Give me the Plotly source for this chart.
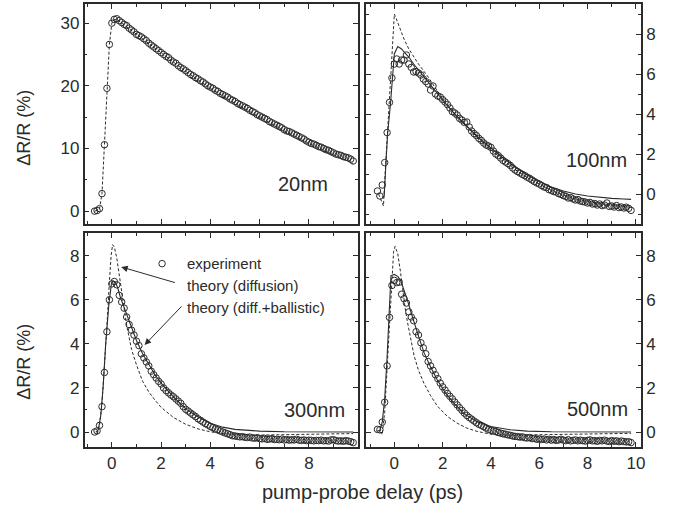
import plotly.graph_objects as go

# ---------------- data ----------------
DELAY_PS = [
    -0.7, -0.6, -0.5, -0.4, -0.3, -0.2, -0.1,
    0.0, 0.1, 0.2, 0.3, 0.4, 0.5, 0.6, 0.7, 0.8, 0.9,
    1.0, 1.1, 1.2, 1.3, 1.4, 1.5, 1.6, 1.7, 1.8, 1.9,
    2.0, 2.1, 2.2, 2.3, 2.4, 2.5, 2.6, 2.7, 2.8, 2.9,
    3.0, 3.1, 3.2, 3.3, 3.4, 3.5, 3.6, 3.7, 3.8, 3.9,
    4.0, 4.1, 4.2, 4.3, 4.4, 4.5, 4.6, 4.7, 4.8, 4.9,
    5.0, 5.1, 5.2, 5.3, 5.4, 5.5, 5.6, 5.7, 5.8, 5.9,
    6.0, 6.1, 6.2, 6.3, 6.4, 6.5, 6.6, 6.7, 6.8, 6.9,
    7.0, 7.1, 7.2, 7.3, 7.4, 7.5, 7.6, 7.7, 7.8, 7.9,
    8.0, 8.1, 8.2, 8.3, 8.4, 8.5, 8.6, 8.7, 8.8, 8.9,
    9.0, 9.1, 9.2, 9.3, 9.4, 9.5, 9.6, 9.7, 9.8,
]

EXP_20NM = [
    0.0, 0.1, 0.4, 2.8, 10.6, 19.6, 26.6,
    30.0, 30.6, 30.7, 30.4, 30.1, 29.8, 29.6, 29.2, 28.9, 28.6,
    28.2, 28.0, 27.8, 27.5, 27.2, 26.8, 26.5, 26.2, 25.9, 25.6,
    25.3, 25.0, 24.7, 24.5, 24.1, 23.8, 23.6, 23.2, 22.9, 22.7,
    22.4, 22.1, 21.8, 21.6, 21.3, 21.1, 20.8, 20.6, 20.3, 20.0,
    19.8, 19.6, 19.3, 19.1, 18.8, 18.6, 18.4, 18.2, 17.9, 17.7,
    17.5, 17.2, 17.0, 16.8, 16.6, 16.4, 16.1, 15.9, 15.7, 15.4,
    15.2, 15.0, 14.8, 14.6, 14.3, 14.1, 13.9, 13.7, 13.5, 13.3,
    13.0, 12.8, 12.7, 12.5, 12.3, 12.1, 11.9, 11.7, 11.5, 11.2,
    11.0, 10.8, 10.7, 10.5, 10.3, 10.2, 10.0, 9.8, 9.7, 9.5,
    9.3, 9.1, 9.0, 8.9, 8.7, 8.6, 8.5, 8.3, 8.0,
]

EXP_100NM = [
    0.15, -0.1, 0.45, 1.57, 3.07, 4.58, 5.8,
    6.5, 6.75, 6.5, 6.7, 6.7, 6.95, 6.5, 6.33, 6.1, 6.12,
    6.05, 5.95, 5.75, 5.62, 5.5, 5.2, 5.4, 5.0, 4.9, 4.85,
    4.72, 4.6, 4.47, 4.3, 4.12, 4.05, 3.95, 3.78, 3.7, 3.58,
    3.6, 3.35, 3.15, 3.02, 2.92, 2.78, 2.68, 2.55, 2.45, 2.4,
    2.33, 2.15, 2.0, 1.92, 1.8, 1.68, 1.6, 1.52, 1.43, 1.3,
    1.2, 1.12, 1.05, 0.98, 0.92, 0.84, 0.78, 0.7, 0.62, 0.55,
    0.5, 0.42, 0.35, 0.32, 0.22, 0.18, 0.12, 0.1, 0.02, -0.02,
    -0.08, -0.12, -0.2, -0.18, -0.25, -0.3, -0.28, -0.35, -0.38, -0.4,
    -0.45, -0.42, -0.5, -0.48, -0.55, -0.5, -0.58, -0.55, -0.45, -0.62,
    -0.6, -0.65, -0.58, -0.68, -0.65, -0.7, -0.66, -0.72, -0.82,
]

EXP_300NM = [
    0.0, 0.05, 0.3, 1.15, 2.7, 4.55, 6.0,
    6.72, 6.83, 6.68, 6.2, 5.9, 5.62, 5.22, 4.88, 4.62, 4.4,
    4.12, 3.92, 3.55, 3.36, 3.18, 3.0, 2.76, 2.6, 2.45, 2.3,
    2.18, 2.0, 1.88, 1.78, 1.68, 1.6, 1.5, 1.4, 1.3, 1.15,
    1.03, 0.95, 0.86, 0.78, 0.7, 0.6, 0.53, 0.45, 0.38, 0.32,
    0.25, 0.2, 0.14, 0.1, 0.05, 0.0, -0.04, -0.08, -0.12, -0.17,
    -0.18, -0.2, -0.22, -0.21, -0.24, -0.25, -0.23, -0.27, -0.28, -0.26,
    -0.3, -0.31, -0.29, -0.33, -0.32, -0.3, -0.34, -0.33, -0.35, -0.32,
    -0.36, -0.34, -0.37, -0.35, -0.36, -0.33, -0.37, -0.38, -0.36, -0.39,
    -0.37, -0.38, -0.4, -0.38, -0.39, -0.37, -0.4, -0.39, -0.41, -0.36,
    -0.35, -0.39, -0.41, -0.4, -0.42, -0.39, -0.41, -0.44, -0.48,
]

EXP_500NM = [
    0.12, 0.1, 0.45, 1.35, 3.0, 5.2, 6.65,
    6.88, 6.78, 6.8, 6.25, 6.05, 5.85, 5.45, 5.22, 5.05, 4.55,
    4.4, 4.05, 3.82, 3.55, 3.2, 3.0, 2.8, 2.6, 2.42, 2.22,
    2.05, 1.9, 1.75, 1.62, 1.5, 1.36, 1.23, 1.1, 0.98, 0.86,
    0.75, 0.66, 0.58, 0.5, 0.42, 0.35, 0.3, 0.24, 0.18, 0.12,
    0.08, 0.05, 0.02, -0.02, -0.05, -0.08, -0.1, -0.13, -0.15, -0.18,
    -0.2, -0.21, -0.23, -0.22, -0.26, -0.27, -0.25, -0.3, -0.29, -0.33,
    -0.31, -0.34, -0.32, -0.36, -0.33, -0.37, -0.34, -0.38, -0.36, -0.33,
    -0.37, -0.39, -0.35, -0.4, -0.38, -0.36, -0.4, -0.37, -0.39, -0.41,
    -0.38, -0.36, -0.4, -0.39, -0.42, -0.38, -0.4, -0.37, -0.41, -0.43,
    -0.39, -0.42, -0.4, -0.44, -0.41, -0.43, -0.45, -0.44, -0.48,
]

# theory (diffusion) - dashed
DIFF_20NM_T = [-0.7, -0.6, -0.5, -0.4, -0.3, -0.2, -0.1, 0.0, 0.1, 0.2, 0.5, 1.0, 2.0, 3.0, 4.0, 5.0, 6.0, 7.0, 8.0, 9.0, 9.8]
DIFF_20NM_Y = [0.0, 0.1, 0.4, 2.8, 10.6, 19.6, 26.6, 30.0, 30.6, 30.6, 29.7, 28.2, 25.2, 22.3, 19.6, 17.2, 15.0, 12.8, 10.8, 9.0, 7.6]

DIFF_100NM_T = [-0.65, -0.55, -0.45, -0.4, -0.3, -0.2, -0.1, -0.05, 0.0, 0.1, 0.2, 0.4, 0.6, 0.8, 1.0, 1.4, 1.8, 2.0, 2.5, 3.0, 3.5, 4.0, 4.5, 5.0, 5.5, 6.0, 6.5, 7.0, 7.5, 8.0, 8.5, 9.0, 9.5, 9.8]
DIFF_100NM_Y = [0.0, -0.3, -0.6, 0.6, 2.8, 4.6, 6.6, 7.8, 9.0, 8.7, 8.37, 7.75, 7.25, 6.85, 6.5, 5.85, 5.1, 4.75, 4.0, 3.35, 2.75, 2.2, 1.7, 1.22, 0.82, 0.48, 0.18, -0.06, -0.25, -0.38, -0.48, -0.56, -0.62, -0.66]

DIFF_300NM_T = [-0.6, -0.5, -0.4, -0.3, -0.2, -0.1, -0.03, 0.03, 0.1, 0.2, 0.3, 0.4, 0.5, 0.6, 0.8, 1.0, 1.25, 1.5, 1.75, 2.0, 2.5, 3.0, 3.5, 4.0, 4.5, 5.0, 5.5, 6.0, 7.0, 8.0, 9.0, 9.8]
DIFF_300NM_Y = [-0.1, 0.3, 1.3, 2.9, 4.8, 6.8, 8.0, 8.5, 8.4, 7.9, 7.1, 6.3, 5.5, 4.85, 3.75, 3.05, 2.3, 1.82, 1.45, 1.12, 0.66, 0.35, 0.14, 0.01, -0.07, -0.12, -0.14, -0.14, -0.12, -0.1, -0.08, -0.07]

DIFF_500NM_T = [-0.6, -0.5, -0.4, -0.3, -0.2, -0.1, -0.03, 0.03, 0.14, 0.25, 0.34, 0.45, 0.55, 0.7, 0.82, 1.0, 1.23, 1.5, 1.78, 2.2, 2.6, 3.0, 3.42, 4.0, 4.5, 5.0, 6.0, 7.0, 8.0, 9.0, 9.8]
DIFF_500NM_Y = [0.0, -0.12, 0.9, 3.0, 5.2, 7.2, 8.2, 8.42, 8.1, 7.3, 6.5, 5.6, 4.95, 4.05, 3.45, 2.8, 2.2, 1.65, 1.18, 0.7, 0.4, 0.18, 0.03, -0.1, -0.14, -0.14, -0.12, -0.1, -0.08, -0.07, -0.06]

# theory (diffusion + ballistic) - solid
BALL_100NM_T = [-0.5, -0.42, -0.35, -0.28, -0.16, -0.07, 0.0, 0.14, 0.3, 0.4, 0.6, 0.8, 1.0, 1.5, 2.0, 2.5, 3.0, 3.5, 4.0, 4.5, 5.0, 5.5, 6.0, 6.5, 7.0, 7.5, 8.0, 8.5, 9.0, 9.5, 9.8]
BALL_100NM_Y = [-0.2, -0.1, 1.5, 3.0, 4.5, 5.8, 7.0, 7.37, 7.25, 7.1, 6.85, 6.5, 6.2, 5.4, 4.7, 4.0, 3.4, 2.8, 2.3, 1.8, 1.35, 0.95, 0.62, 0.35, 0.15, 0.0, -0.1, -0.17, -0.22, -0.25, -0.27]

BALL_300NM_T = [-0.65, -0.55, -0.45, -0.35, -0.25, -0.12, -0.02, 0.05, 0.15, 0.25, 0.35, 0.5, 0.75, 1.0, 1.25, 1.5, 1.75, 2.0, 2.5, 3.0, 3.5, 4.0, 4.5, 5.0, 5.5, 6.0, 7.0, 8.0, 9.0, 9.8]
BALL_300NM_Y = [-0.02, 0.1, 0.75, 2.1, 4.0, 5.8, 6.7, 6.85, 6.8, 6.5, 6.1, 5.65, 4.85, 4.15, 3.55, 3.05, 2.6, 2.22, 1.6, 1.05, 0.68, 0.4, 0.22, 0.12, 0.07, 0.04, 0.01, 0.0, 0.0, 0.0]

BALL_500NM_T = [-0.7, -0.6, -0.5, -0.4, -0.3, -0.2, -0.14, 0.0, 0.15, 0.27, 0.4, 0.55, 0.7, 0.82, 1.0, 1.23, 1.5, 1.78, 2.1, 2.47, 2.9, 3.42, 4.0, 4.8, 5.5, 6.5, 8.0, 9.8]
BALL_500NM_Y = [0.05, 0.08, 0.45, 1.5, 3.4, 5.5, 7.1, 7.15, 7.05, 6.85, 6.45, 5.95, 5.4, 4.95, 4.35, 3.6, 2.95, 2.36, 1.8, 1.3, 0.82, 0.47, 0.25, 0.1, 0.04, 0.01, 0.0, 0.0]

PANEL_LABELS = ["20nm", "100nm", "300nm", "500nm"]
LEGEND_TEXT = ["experiment", "theory (diffusion)", "theory (diff.+ballistic)"]
X_TITLE = "pump-probe delay (ps)"
Y_TITLE = "\u0394R/R (%)"

# ---------------- styling ----------------
W, H = 680, 511
INK = "#2b2b2b"
FONT = "Liberation Sans, Arial, sans-serif"


def px_x(a):
    return a / W


def px_y(a):
    return 1 - a / H


def xdom(a, b):
    return [px_x(a), px_x(b)]


def ydom(top, bot):
    return [px_y(bot), px_y(top)]


fig = go.Figure()

marker_style = dict(symbol="circle-open", size=6.5, color=INK, line=dict(width=1, color=INK))
dash_style = dict(color=INK, width=1, dash="3px,2px")
solid_style = dict(color=INK, width=1.1)

panels = [
    ("x", "y", EXP_20NM, (DIFF_20NM_T, DIFF_20NM_Y), None),
    ("x2", "y2", EXP_100NM, (DIFF_100NM_T, DIFF_100NM_Y), (BALL_100NM_T, BALL_100NM_Y)),
    ("x3", "y3", EXP_300NM, (DIFF_300NM_T, DIFF_300NM_Y), (BALL_300NM_T, BALL_300NM_Y)),
    ("x4", "y4", EXP_500NM, (DIFF_500NM_T, DIFF_500NM_Y), (BALL_500NM_T, BALL_500NM_Y)),
]
for xa, ya, exp, diff, ball in panels:
    fig.add_trace(go.Scatter(x=diff[0], y=diff[1], mode="lines", line=dash_style,
                             xaxis=xa, yaxis=ya, showlegend=False, hoverinfo="skip"))
    if ball is not None:
        fig.add_trace(go.Scatter(x=ball[0], y=ball[1], mode="lines", line=solid_style,
                                 xaxis=xa, yaxis=ya, showlegend=False, hoverinfo="skip"))
    fig.add_trace(go.Scatter(x=DELAY_PS, y=exp, mode="markers", marker=marker_style,
                             xaxis=xa, yaxis=ya, showlegend=False))

# legend symbol (experiment) in 300nm panel
fig.add_trace(go.Scatter(x=[2.04], y=[7.64], mode="markers", marker=marker_style,
                         xaxis="x3", yaxis="y3", showlegend=False, hoverinfo="skip"))

common = dict(showline=True, linecolor=INK, linewidth=1.5, mirror="allticks",
              ticks="inside", ticklen=5, tickwidth=1.2, tickcolor=INK,
              showgrid=False, zeroline=False,
              tickfont=dict(family=FONT, size=17, color=INK))


def xaxis_cfg(dom, rng, anchor, labels):
    d = dict(common)
    d.update(domain=dom, range=rng, anchor=anchor, tick0=0, dtick=2,
             showticklabels=labels,
             minor=dict(ticks="inside", ticklen=3, tickwidth=1, tickcolor=INK, dtick=1, tick0=0, showgrid=False))
    return d


def yaxis_cfg(dom, rng, anchor, side, dt, mdt):
    d = dict(common)
    d.update(domain=dom, range=rng, anchor=anchor, side=side, tick0=0, dtick=dt,
             minor=dict(ticks="inside", ticklen=3, tickwidth=1, tickcolor=INK, dtick=mdt, tick0=0, showgrid=False))
    return d


LX, RX = xdom(85, 360), xdom(368, 645)
TY, BY = ydom(4, 224), ydom(233, 447)

fig.update_layout(
    width=W, height=H,
    margin=dict(l=0, r=0, t=0, b=0),
    paper_bgcolor="white", plot_bgcolor="white",
    font=dict(family=FONT, color=INK),
    xaxis=xaxis_cfg(LX, [-1.11, 9.99], "y", False),
    xaxis2=xaxis_cfg(RX, [-1.18, 10.22], "y2", False),
    xaxis3=xaxis_cfg(LX, [-1.11, 9.99], "y3", True),
    xaxis4=xaxis_cfg(RX, [-1.18, 10.22], "y4", True),
    yaxis=yaxis_cfg(TY, [-2.05, 33.05], "x", "left", 10, 5),
    yaxis2=yaxis_cfg(TY, [-1.5, 9.5], "x2", "right", 2, 1),
    yaxis3=yaxis_cfg(BY, [-0.68, 9.03], "x3", "left", 2, 1),
    yaxis4=yaxis_cfg(BY, [-0.68, 9.03], "x4", "right", 2, 1),
)

ann = []
label_pos = [("x", "y", 7.75, 4.4), ("x2", "y2", 8.37, 1.7), ("x3", "y3", 8.24, 1.0), ("x4", "y4", 8.41, 1.05)]
for text, (xa, ya, lx, ly) in zip(PANEL_LABELS, label_pos):
    ann.append(dict(text=text, x=lx, y=ly, xref=xa, yref=ya, showarrow=False,
                    xanchor="center", yanchor="middle", font=dict(family=FONT, size=20, color=INK)))

for text, ly in zip(LEGEND_TEXT, [7.64, 6.64, 5.67]):
    ann.append(dict(text=text, x=2.98, y=ly, xref="x3", yref="y3", showarrow=False,
                    xanchor="left", yanchor="middle", font=dict(family=FONT, size=15, color=INK)))

# arrows
ann.append(dict(text="", x=0.38, y=7.49, ax=2.62, ay=6.76, xref="x3", yref="y3", axref="x3", ayref="y3",
                showarrow=True, arrowhead=2, arrowsize=1.3, arrowwidth=1, arrowcolor=INK))
ann.append(dict(text="", x=1.33, y=3.95, ax=2.89, ay=5.77, xref="x3", yref="y3", axref="x3", ayref="y3",
                showarrow=True, arrowhead=2, arrowsize=1.3, arrowwidth=1, arrowcolor=INK))

# axis titles
ann.append(dict(text=X_TITLE, x=px_x(365), y=px_y(492), xref="paper", yref="paper", showarrow=False,
                xanchor="center", yanchor="middle", font=dict(family=FONT, size=20, color=INK)))
for yc in (128, 362):
    ann.append(dict(text=Y_TITLE, x=px_x(24), y=px_y(yc), xref="paper", yref="paper", showarrow=False,
                    textangle=-90, xanchor="center", yanchor="middle", font=dict(family=FONT, size=18, color=INK)))

fig.update_layout(annotations=ann)

# remove the default 8px page margin so the figure fills the window exactly
fig.write_html("out.html", config={"displayModeBar": False},
               post_script="document.body.style.margin='0';document.body.style.overflow='hidden';")
